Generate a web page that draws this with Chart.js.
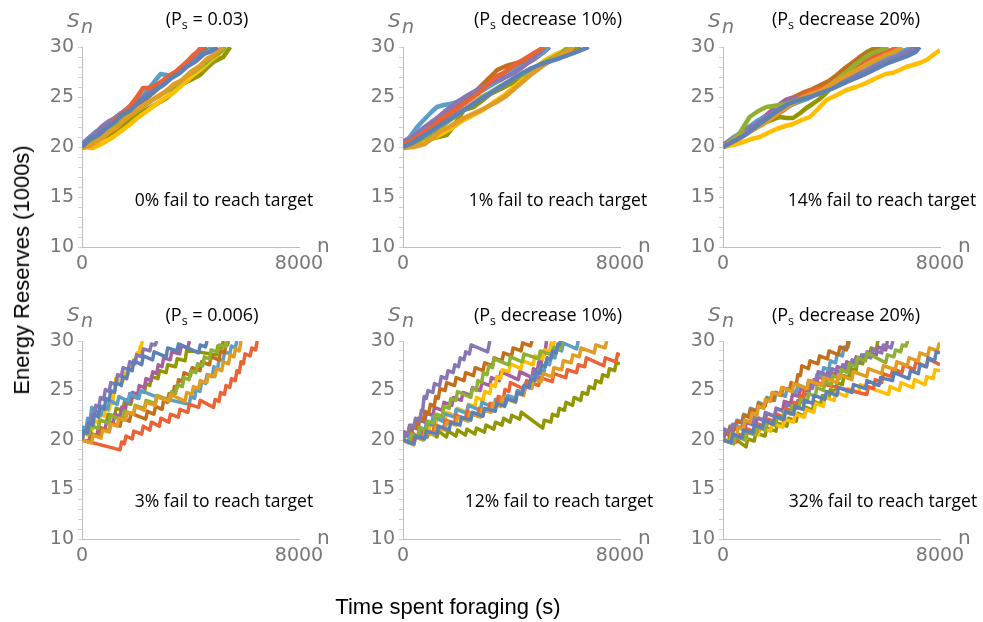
<!DOCTYPE html>
<html>
<head>
<meta charset="utf-8">
<script src="https://cdn.jsdelivr.net/npm/chart.js@4.4.0/dist/chart.umd.min.js"></script>
<style>
  body { margin: 0; background: #fff; width: 983px; height: 622px; position: relative; overflow: hidden; }
  .panel { position: absolute; }
  #ylab { position: absolute; left: 22px; top: 270px; transform: translate(-50%, -50%) rotate(-90deg);
          font: 22px "Liberation Sans", Arial, sans-serif; white-space: nowrap; color: #000; }
  #xlab { position: absolute; left: 448px; top: 607px; transform: translate(-50%, -50%);
          font: 22px "Liberation Sans", Arial, sans-serif; white-space: nowrap; color: #000; }
</style>
</head>
<body>
<div class="panel" style="left:0px;top:0px"><canvas id="c1" width="330" height="290"></canvas></div>
<div class="panel" style="left:321px;top:0px"><canvas id="c2" width="340" height="290"></canvas></div>
<div class="panel" style="left:641px;top:0px"><canvas id="c3" width="342" height="290"></canvas></div>
<div class="panel" style="left:0px;top:294px"><canvas id="c4" width="330" height="288"></canvas></div>
<div class="panel" style="left:321px;top:294px"><canvas id="c5" width="340" height="288"></canvas></div>
<div class="panel" style="left:641px;top:294px"><canvas id="c6" width="342" height="288"></canvas></div>
<div id="ylab">Energy Reserves (1000s)</div>
<div id="xlab">Time spent foraging (s)</div>
<script>
// Mathematica default palette, in plot order
var seriesColors = ['#5E81B5', '#E19C24', '#8FB032', '#EB6235', '#8778B3',
                    '#C56E1A', '#5D9EC7', '#FFBF00', '#A5609D', '#929600'];

var xTicks = [0, 8000];
var yTicks = [10, 15, 20, 25, 30];

var titleTails = [' = 0.03)', ' decrease 10%)', ' decrease 20%)',
                  ' = 0.006)', ' decrease 10%)', ' decrease 20%)'];
var failLabels = ['0% fail to reach target', '1% fail to reach target', '14% fail to reach target',
                  '3% fail to reach target', '12% fail to reach target', '32% fail to reach target'];

// each run: n, S, n, S, ...   (S in 1000s)
// Ps = 0.03
var runsA = [
  [0,20, 300,20.8, 600,21.2, 900,21.9, 1200,22.5, 1500,23.3, 1800,23.7, 2100,24.5, 2400,25.0, 2700,25.7, 3000,26.2, 3300,26.9, 3600,27.4, 3900,28.1, 4200,28.6, 4500,29.3, 4700,29.5, 5000,30],
  [0,19.9, 350,20.2, 700,20.8, 1000,21.5, 1300,22.0, 1600,22.8, 1900,23.4, 2200,24.0, 2500,24.6, 2800,25.0, 3100,25.6, 3400,26.3, 3700,26.7, 4000,27.5, 4300,28.0, 4600,28.8, 4800,29.1, 5200,30],
  [0,20, 300,20.5, 600,20.9, 900,21.6, 1200,22.0, 1500,22.7, 1800,23.2, 2100,23.7, 2400,24.3, 2700,24.9, 3000,25.4, 3300,25.9, 3600,26.5, 3900,27.2, 4200,27.7, 4500,28.3, 4800,29.0, 5100,29.5, 5300,30],
  [0,20, 300,20.7, 600,21.2, 900,21.9, 1200,22.7, 1500,23.4, 1800,24.2, 2000,24.9, 2250,25.9, 2500,25.9, 2800,26.3, 3100,26.9, 3400,27.4, 3700,28.1, 3900,28.6, 4100,29.2, 4300,29.6, 4400,30],
  [0,20.3, 250,20.9, 500,21.4, 750,22.1, 1000,22.6, 1250,22.9, 1500,23.4, 1800,24.0, 2100,24.6, 2400,25.3, 2700,25.8, 3000,26.5, 3300,27.0, 3600,27.6, 3900,28.3, 4100,28.9, 4300,29.5, 4500,30],
  [0,20, 350,20.6, 700,21.3, 1050,22.1, 1400,22.9, 1700,23.5, 2000,24.2, 2350,24.8, 2700,25.6, 3000,26.4, 3300,27.3, 3550,27.6, 3800,28.2, 4000,28.8, 4200,29.3, 4400,29.6, 4600,30],
  [0,20.2, 250,20.9, 500,21.5, 800,22.0, 1100,22.6, 1400,23.3, 1700,23.9, 2000,24.6, 2300,25.3, 2600,26.3, 2900,27.3, 3100,27.2, 3300,27.1, 3550,27.5, 3800,28.0, 4050,28.5, 4300,29.0, 4550,29.5, 4800,30],
  [0,20, 400,19.9, 650,20.2, 900,20.6, 1150,21.0, 1400,21.5, 1700,22.1, 2000,22.8, 2300,23.4, 2600,24.0, 2850,24.5, 3100,25.0, 3350,25.4, 3600,26.0, 3850,26.6, 4100,27.2, 4350,27.7, 4600,28.3, 4800,28.8, 5000,29.2, 5300,30],
  [0,20.1, 300,20.9, 600,21.6, 850,22.2, 1100,22.7, 1400,23.3, 1700,23.8, 2000,24.4, 2300,25.1, 2600,25.8, 2900,26.4, 3200,27.0, 3500,27.6, 3750,28.2, 4000,28.8, 4200,29.3, 4400,30],
  [0,20, 300,20.4, 600,20.8, 1030,21.2, 1300,21.8, 1650,22.4, 1900,22.9, 2140,23.4, 2500,23.9, 2800,24.4, 3120,24.9, 3400,25.6, 3610,26.2, 4000,26.7, 4350,27.2, 4600,27.9, 4840,28.5, 5210,29.0, 5460,30]
];

// Ps decrease 10% (top)
var runsB = [
  [0,20, 350,20.4, 700,21.0, 1100,21.7, 1500,22.4, 1900,23.1, 2300,23.8, 2650,24.4, 3000,25.0, 3350,25.6, 3700,26.2, 4050,26.8, 4400,27.4, 4750,27.9, 5100,28.3, 5450,28.6, 5800,28.9, 6100,29.2, 6400,29.5, 6850,30],
  [0,19.9, 400,20.0, 800,20.3, 1100,20.9, 1400,21.6, 1700,22.0, 2000,22.5, 2250,22.9, 2480,23.2, 2800,23.6, 3100,24.0, 3450,24.5, 3800,25.1, 4100,25.8, 4400,26.5, 4700,27.2, 5000,27.8, 5300,28.4, 5600,28.9, 5900,29.3, 6290,30],
  [0,20, 400,20.4, 800,20.9, 1150,21.5, 1500,22.2, 1850,22.9, 2200,23.6, 2550,24.3, 2900,25.0, 3250,25.5, 3600,26.1, 4000,26.7, 4400,27.2, 4750,27.8, 5100,28.3, 5450,28.8, 5800,29.3, 6100,30],
  [0,20.2, 350,20.7, 700,21.3, 1050,22.0, 1400,22.8, 1750,23.4, 2100,24.0, 2450,24.7, 2800,25.4, 3100,26.2, 3400,27.0, 3700,27.4, 4000,28.0, 4300,28.5, 4600,29.0, 4900,29.5, 5200,30],
  [0,20.4, 300,20.9, 600,21.5, 950,22.2, 1300,23.0, 1650,23.8, 2000,24.5, 2400,25.2, 2800,25.8, 3150,26.3, 3500,26.7, 3800,27.0, 4100,27.4, 4400,28.0, 4700,28.6, 4950,29.3, 5200,30],
  [0,20, 300,20.5, 600,21.0, 1000,21.7, 1350,22.5, 1700,23.3, 2000,23.8, 2240,24.4, 2500,25.1, 2800,25.9, 3100,26.7, 3300,27.2, 3470,27.7, 3800,28.1, 4200,28.4, 4450,28.6, 4700,28.9, 4950,29.4, 5200,30],
  [0,20, 250,21.0, 520,22.0, 800,22.8, 1050,23.5, 1250,24.0, 1500,24.2, 1750,24.3, 2000,24.5, 2300,24.9, 2600,25.2, 2900,25.6, 3200,26.1, 3500,26.6, 3800,27.2, 4100,27.8, 4400,28.2, 4700,28.7, 5050,29.3, 5400,30],
  [0,20, 450,20.2, 900,20.6, 1350,21.2, 1800,21.9, 2240,22.7, 2600,23.2, 2950,23.7, 3300,24.4, 3700,25.1, 4050,25.9, 4400,26.7, 4650,27.3, 4900,28.0, 5250,28.7, 5650,29.3, 5900,29.6, 6150,30],
  [0,20.5, 350,21.1, 700,21.8, 1050,22.5, 1400,23.1, 1700,23.7, 2000,24.3, 2400,25.0, 2800,25.7, 3200,26.2, 3600,26.7, 3950,27.3, 4300,27.8, 4600,28.4, 4900,28.9, 5150,29.4, 5400,30],
  [0,19.9, 500,20.3, 1000,20.8, 1300,21.0, 1620,21.2, 1900,22.2, 2240,23.7, 2610,24.0, 2900,24.6, 3220,25.3, 3600,25.8, 3960,26.3, 4250,26.7, 4580,27.0, 4820,27.5, 5060,28.0, 5350,28.5, 5650,29.0, 6000,29.4, 6390,29.8, 6550,30]
];

// Ps decrease 20% (top)
var runsC = [
  [0,20, 400,20.6, 800,21.2, 1200,22.0, 1600,22.8, 2000,23.6, 2400,24.3, 2800,24.7, 3200,25.0, 3600,25.4, 4000,25.8, 4400,26.3, 4800,26.8, 5200,27.3, 5600,27.8, 6000,28.3, 6400,28.7, 6800,29.1, 7100,29.5, 7250,30],
  [0,20, 400,20.7, 800,21.3, 1150,21.8, 1500,22.3, 1850,23.0, 2200,23.7, 2550,24.3, 2900,24.9, 3250,25.3, 3600,25.6, 3950,26.2, 4300,26.8, 4650,27.3, 5000,27.8, 5350,28.3, 5700,28.8, 6000,29.2, 6300,29.5, 6600,30],
  [0,20, 300,20.6, 600,21.3, 800,22.2, 980,23.0, 1300,23.6, 1600,24.0, 1850,24.1, 2090,24.2, 2350,24.3, 2580,24.5, 2850,24.7, 3100,25.0, 3400,25.3, 3700,25.7, 4000,26.3, 4300,27.0, 4600,27.6, 4900,28.3, 5200,28.9, 5500,29.4, 5800,29.7, 6100,30],
  [0,20.1, 400,20.6, 800,21.2, 1150,21.8, 1500,22.4, 1900,23.1, 2300,23.8, 2650,24.5, 3000,25.3, 3300,25.6, 3600,25.8, 3950,26.3, 4300,26.9, 4600,27.5, 4900,28.1, 5200,28.6, 5500,29.0, 5800,29.3, 6100,29.6, 6500,30],
  [0,20.2, 350,20.8, 700,21.4, 1050,22.0, 1400,22.6, 1750,23.3, 2090,24.0, 2400,24.5, 2700,24.9, 3100,25.2, 3500,25.5, 3900,25.9, 4300,26.3, 4650,26.8, 5000,27.3, 5350,27.7, 5700,28.2, 6050,28.6, 6400,29.0, 6700,29.4, 7000,29.8, 7190,30],
  [0,20, 350,20.5, 700,21.0, 1050,21.7, 1400,22.3, 1750,23.0, 2100,23.7, 2400,24.4, 2700,25.1, 3000,25.5, 3300,25.8, 3600,26.2, 3900,26.6, 4200,27.2, 4500,27.9, 4750,28.4, 5000,28.9, 5250,29.3, 5500,29.6, 5900,30],
  [0,20.2, 350,20.9, 700,21.5, 1000,22.1, 1300,22.7, 1650,23.1, 2000,23.5, 2350,24.0, 2700,24.4, 3100,24.8, 3500,25.3, 3900,25.9, 4300,26.5, 4700,27.0, 5100,27.6, 5450,28.2, 5800,28.7, 6150,29.1, 6500,29.5, 6850,29.8, 7200,30],
  [0,20, 370,20.2, 740,20.5, 1050,20.8, 1350,21.0, 1650,21.4, 1970,21.8, 2300,22.1, 2580,22.3, 2900,22.7, 3200,23.0, 3500,23.8, 3810,24.7, 4200,25.2, 4550,25.7, 4900,26.0, 5280,26.4, 5650,26.9, 6000,27.3, 6250,27.4, 6510,27.7, 6750,28.0, 7000,28.2, 7250,28.4, 7500,28.7, 7750,29.2, 8000,29.7],
  [0,20, 400,20.8, 800,21.5, 1200,22.4, 1600,23.2, 1950,24.0, 2300,24.7, 2650,25.0, 3000,25.2, 3400,25.5, 3800,25.9, 4200,26.2, 4600,26.6, 5000,27.0, 5400,27.5, 5750,28.0, 6100,28.5, 6450,28.9, 6800,29.3, 7000,29.6, 7200,30],
  [0,20, 350,20.8, 740,21.5, 1050,21.9, 1350,22.2, 1700,22.6, 2090,23.0, 2350,22.9, 2580,22.9, 2850,23.4, 3070,23.9, 3300,24.3, 3560,24.8, 3800,25.4, 4060,26.1, 4300,26.8, 4550,27.5, 4800,28.3, 5040,29.0, 5300,29.5, 5530,29.8, 5900,30]
];

// Ps = 0.006
var runsD = [
  [0,20, 50,20.9, 200,20.7, 260,21.7, 400,21.5, 460,22.6, 600,22.3, 660,23.4, 820,23.1, 880,24.2, 1000,24.0, 1060,25.0, 1200,24.8, 1260,25.8, 1450,25.5, 1510,26.4, 1650,26.2, 1710,27.2, 1850,27.0, 1910,28.0, 2200,27.6, 2260,28.5, 2600,28.1, 2660,28.9, 3100,28.4, 3160,29.3, 3500,29.0, 3560,29.7, 4300,28.8, 4360,29.6, 4550,29.4, 4610,30],
  [0,20, 350,19.7, 410,20.5, 700,20.2, 760,21.0, 1000,20.8, 1060,21.6, 1300,21.4, 1360,22.2, 1600,22.0, 1660,22.8, 1900,22.6, 1960,23.4, 2300,23.0, 2360,23.8, 2700,23.5, 2760,24.4, 3200,23.9, 3260,24.6, 3800,23.9, 3860,24.8, 4050,24.6, 4110,25.4, 4300,25.2, 4360,26.0, 4600,25.8, 4660,26.6, 4900,26.4, 4960,27.2, 5150,27.0, 5210,27.9, 5400,27.7, 5460,28.6, 5600,28.4, 5660,29.2, 5800,29.0, 5860,30],
  [0,20, 60,20.8, 250,20.6, 310,21.4, 600,21.2, 660,22.0, 1000,21.7, 1060,22.5, 1500,22.0, 1560,22.9, 1900,22.6, 1960,23.5, 2300,23.2, 2360,24.0, 2700,23.7, 2760,24.5, 3250,24.0, 3310,24.9, 3450,24.7, 3510,25.6, 3700,25.4, 3760,26.3, 3950,26.1, 4010,27.0, 4200,26.8, 4260,27.7, 4450,27.5, 4510,28.4, 4700,28.2, 4760,29.1, 5000,28.9, 5060,29.6, 5300,29.4, 5360,30],
  [0,20, 1400,19.0, 1460,19.8, 1560,19.6, 1620,20.4, 1850,20.1, 1910,20.9, 2200,20.6, 2260,21.4, 2500,21.0, 2560,21.8, 2850,21.4, 2910,22.2, 3200,21.8, 3260,22.6, 3550,22.3, 3610,23.1, 3900,22.8, 3960,23.6, 4300,23.3, 4360,24.0, 4850,23.3, 4910,24.1, 5050,23.9, 5110,24.8, 5250,24.6, 5310,25.5, 5450,25.3, 5510,26.2, 5650,26.0, 5710,27.0, 5800,26.8, 5860,27.9, 5950,27.7, 6010,28.7, 6200,28.5, 6260,29.3, 6400,29.1, 6460,30],
  [0,20, 60,20.9, 150,20.7, 210,21.7, 300,21.5, 360,22.6, 450,22.4, 510,23.5, 620,23.3, 680,24.3, 800,24.1, 860,25.1, 1000,24.9, 1060,25.8, 1250,25.6, 1310,26.6, 1450,26.4, 1510,27.3, 1700,27.1, 1760,27.9, 1950,27.7, 2010,28.6, 2200,28.4, 2260,29.2, 2500,29.0, 2560,29.7, 2700,29.6, 2760,30],
  [0,20, 300,19.8, 360,20.6, 650,20.4, 710,21.2, 1000,20.9, 1060,21.7, 1400,21.4, 1460,22.2, 1750,21.9, 1810,22.7, 2350,22.1, 2410,22.9, 2650,22.6, 2710,23.4, 2950,23.1, 3010,24.0, 3150,23.8, 3210,24.7, 3350,24.5, 3410,25.4, 3500,25.2, 3560,26.1, 3700,25.9, 3760,26.8, 4000,26.5, 4060,27.3, 4350,27.0, 4410,27.9, 4700,27.6, 4760,28.4, 5050,28.1, 5110,29.0, 5250,28.8, 5310,29.7, 5360,29.6, 5400,30],
  [0,20, 50,21.3, 150,21.1, 210,22.2, 300,22.0, 360,23.3, 700,22.5, 760,23.4, 950,23.1, 1010,24.0, 1300,23.6, 1360,24.4, 1700,23.9, 1760,24.7, 2100,24.2, 2160,25.0, 2700,24.4, 3950,23.6, 4010,24.4, 4150,24.2, 4210,25.1, 4350,24.9, 4410,25.9, 4550,25.7, 4610,26.6, 4800,26.4, 4860,27.4, 5000,27.2, 5060,28.2, 5200,28.0, 5260,28.9, 5450,28.7, 5510,29.5, 5650,29.3, 5710,30],
  [0,20, 60,20.8, 200,20.5, 260,21.4, 400,21.1, 460,22.0, 620,21.7, 680,22.6, 820,22.4, 880,23.3, 1000,23.0, 1060,23.9, 1130,23.7, 1170,24.9, 1200,24.8, 1240,26.2, 1500,25.9, 1560,26.8, 1700,26.6, 1760,27.4, 1850,27.2, 1900,28.1, 1980,27.9, 2030,28.8, 2100,28.6, 2150,29.5, 2180,29.4, 2220,30],
  [0,20, 250,19.8, 310,20.6, 550,20.4, 610,21.3, 850,21.1, 910,21.9, 1150,21.7, 1210,22.6, 1400,22.4, 1460,23.3, 1600,23.1, 1660,24.1, 1800,23.9, 1860,24.8, 2050,24.6, 2110,25.5, 2300,25.3, 2360,26.2, 2550,26.0, 2610,26.9, 2750,26.7, 2810,27.6, 2950,27.4, 3010,28.3, 3250,28.1, 3310,28.9, 3600,28.7, 3660,29.5, 3900,29.3, 3960,30],
  [0,20, 60,20.8, 300,20.6, 360,21.4, 600,21.2, 660,22.0, 900,21.8, 960,22.6, 1200,22.4, 1260,23.2, 1500,23.0, 1560,23.8, 1800,23.6, 1860,24.4, 2050,24.2, 2110,25.0, 2300,24.8, 2360,25.7, 2500,25.5, 2560,26.4, 2800,26.2, 2860,27.0, 3100,26.8, 3160,27.6, 3450,27.4, 3510,28.2, 3800,28.0, 3860,29.1, 4950,28.6, 5010,29.5, 5150,29.3, 5210,30]
];

// Ps decrease 10% (bottom)
var runsE = [
  [0,20, 400,19.6, 460,20.4, 800,20.1, 860,20.9, 1250,20.6, 1310,21.4, 1700,21.0, 1760,21.8, 2100,21.5, 2160,22.3, 2500,22.0, 2560,22.8, 2950,22.4, 3010,23.2, 3400,22.9, 3460,23.7, 3750,23.4, 3810,24.2, 4150,23.9, 4210,24.8, 4400,24.6, 4460,25.5, 4650,25.3, 4710,26.2, 4850,26.0, 4910,26.9, 5050,26.7, 5110,27.6, 5250,27.4, 5310,28.3, 5450,28.1, 5510,29.0, 5650,28.8, 5710,29.7, 5760,29.6, 5800,30],
  [0,20, 400,19.5, 460,20.3, 750,20.0, 810,20.8, 1150,20.5, 1210,21.3, 1550,21.0, 1610,21.8, 1950,21.5, 2010,22.3, 2400,21.9, 2460,22.7, 2850,22.3, 2910,23.1, 3250,22.8, 3310,23.7, 3600,23.4, 3660,24.3, 4150,23.8, 4210,24.7, 4450,24.5, 4510,25.4, 4750,25.2, 4810,26.1, 5100,25.9, 5160,26.7, 5500,26.4, 5560,27.3, 5850,27.1, 5910,28.0, 6200,27.8, 6260,28.6, 6500,28.4, 6560,29.3, 7050,28.8, 7110,29.6, 7450,29.3, 7510,30],
  [0,20, 250,19.8, 310,20.6, 550,20.4, 610,21.3, 850,21.0, 910,21.9, 1150,21.7, 1210,22.6, 1450,22.4, 1510,23.4, 1700,23.2, 1760,24.2, 1950,24.0, 2010,24.9, 2500,24.3, 2560,25.2, 2700,25.0, 2760,26.0, 2900,25.8, 2960,26.8, 3100,26.6, 3160,27.5, 3300,27.3, 3360,28.2, 3900,27.6, 3960,28.4, 4400,27.9, 4460,28.7, 5000,28.2, 5060,29.0, 5500,28.6, 5560,29.4, 5800,29.2, 5860,30],
  [0,20, 300,19.8, 360,20.6, 700,20.2, 760,21.0, 1100,20.7, 1160,21.5, 1500,21.2, 1560,22.0, 1900,21.7, 1960,22.5, 2300,22.1, 2360,22.9, 2750,22.4, 2810,23.2, 3150,22.9, 3210,23.7, 3450,23.5, 3510,24.4, 3700,24.2, 3760,25.1, 3900,24.9, 3960,25.8, 4500,25.1, 4560,26.0, 5000,25.5, 5060,26.3, 5500,25.9, 5560,26.7, 6000,26.3, 6060,27.1, 6400,26.8, 6460,27.6, 6700,27.4, 6760,28.3, 7400,27.5, 7460,28.3, 7850,27.9, 7910,28.7, 8000,28.6],
  [0,20, 60,20.8, 180,20.6, 240,21.5, 400,21.3, 460,22.2, 620,22.0, 680,23.0, 720,22.9, 780,24.4, 860,24.2, 920,25.0, 1100,24.8, 1160,25.7, 1350,25.5, 1410,26.4, 1600,26.2, 1660,27.0, 1850,26.8, 1910,27.6, 2050,27.4, 2110,28.3, 2250,28.1, 2310,28.9, 2450,28.7, 2510,29.6, 3120,28.9, 3200,30],
  [0,20, 60,20.8, 250,20.6, 310,21.5, 500,21.3, 560,22.2, 750,22.0, 810,22.9, 950,22.7, 1010,23.6, 1150,23.4, 1210,24.4, 1300,24.2, 1360,25.2, 1550,25.0, 1610,25.8, 1900,25.5, 1960,26.3, 2250,26.0, 2310,26.8, 2600,26.5, 2660,27.3, 2950,27.0, 3010,27.8, 3300,27.5, 3360,28.3, 3650,28.0, 3710,28.8, 4000,28.5, 4060,29.3, 4350,29.0, 4410,29.8, 4700,29.5, 4760,30],
  [0,20, 200,19.7, 260,20.5, 550,20.2, 610,21.0, 800,20.8, 860,21.7, 1050,21.5, 1110,22.4, 1450,21.9, 1510,22.7, 1900,22.3, 1960,23.1, 2350,22.7, 2410,23.5, 2850,23.0, 2910,23.8, 3350,23.3, 3410,24.1, 3800,23.7, 3860,24.5, 4150,24.2, 4210,25.0, 4450,24.8, 4510,25.7, 4700,25.5, 4760,26.4, 4950,26.2, 5010,27.1, 5200,26.9, 5260,27.8, 5400,27.6, 5460,28.5, 5600,28.3, 5660,29.2, 5850,29.0, 5910,29.8, 6400,29.2, 6460,30],
  [0,20, 400,19.6, 460,20.4, 700,20.2, 760,21.0, 950,20.8, 1010,21.7, 1200,21.5, 1260,22.4, 1550,22.0, 1610,22.8, 1950,22.4, 2010,23.2, 2350,22.8, 2410,23.6, 2650,23.4, 2710,24.3, 2950,24.0, 3010,24.9, 3200,24.7, 3260,25.6, 3400,25.4, 3460,26.4, 3600,26.2, 3660,27.1, 3900,26.9, 3960,27.7, 4350,27.2, 4410,28.0, 4800,27.6, 4860,28.5, 5150,28.2, 5210,29.1, 5400,28.9, 5460,29.8, 5550,29.7, 5600,30],
  [0,20, 100,20.6, 300,20.4, 360,21.3, 550,21.1, 610,22.0, 800,21.8, 860,22.7, 1100,22.5, 1160,23.3, 1450,23.0, 1510,23.8, 1800,23.5, 1860,24.3, 2150,24.0, 2210,24.8, 2500,24.5, 2560,25.3, 2850,25.0, 2910,25.8, 3200,25.5, 3260,26.3, 3550,26.0, 3610,26.9, 4250,26.1, 4310,26.9, 4750,26.3, 4810,27.2, 4950,27.0, 5010,27.9, 5100,27.8, 5160,28.8, 5230,28.7, 5290,30],
  [0,20, 60,20.6, 300,20.1, 360,20.7, 600,20.2, 660,20.8, 900,20.3, 960,20.9, 1250,20.3, 1310,20.9, 1600,20.3, 1660,20.9, 1950,20.4, 2010,21.0, 2300,20.5, 2360,21.1, 2650,20.6, 2710,21.2, 3000,20.8, 3060,21.5, 3350,21.1, 3410,21.8, 3650,21.5, 3710,22.2, 3950,21.8, 4010,22.5, 4300,22.1, 4360,22.8, 5150,21.2, 5210,22.0, 5450,21.8, 5510,22.6, 5700,22.4, 5760,23.2, 5950,23.0, 6010,23.8, 6250,23.5, 6310,24.3, 6550,24.0, 6610,24.8, 6800,24.6, 6860,25.4, 7050,25.2, 7110,26.0, 7300,25.8, 7360,26.6, 7550,26.4, 7610,27.2, 7800,27.0, 7860,27.8, 8000,27.7]
];

// Ps decrease 20% (bottom)
var runsF = [
  [0,20, 300,19.7, 360,20.6, 700,20.2, 760,21.0, 1100,20.7, 1160,21.5, 1450,21.2, 1510,22.0, 1850,21.6, 1910,22.4, 2250,22.1, 2310,22.9, 2600,22.6, 2660,23.4, 2950,23.1, 3010,24.0, 3300,23.7, 3360,24.5, 3750,24.1, 3810,24.9, 4200,24.5, 4260,25.3, 4750,24.8, 4810,25.6, 5250,25.2, 5310,26.0, 5750,25.5, 5810,26.3, 6250,26.0, 6310,26.8, 6850,26.2, 6910,27.0, 7200,26.7, 7260,27.6, 7500,27.4, 7560,28.3, 7800,28.0, 7860,28.9, 8000,28.8],
  [0,20, 250,19.8, 310,20.6, 500,20.4, 560,21.3, 750,21.1, 810,22.0, 1000,21.8, 1060,22.7, 1250,22.5, 1310,23.4, 1500,23.2, 1560,24.1, 1750,23.9, 1810,24.8, 2100,24.5, 2160,25.3, 2550,24.9, 2610,25.7, 3100,25.2, 3160,26.0, 3650,25.5, 3710,26.3, 4200,25.8, 4260,26.6, 4750,26.1, 4810,26.9, 5300,26.4, 5360,27.2, 5850,26.7, 5910,27.5, 6350,27.1, 6410,27.9, 6800,27.5, 6860,28.3, 7200,28.0, 7260,28.8, 7550,28.5, 7610,29.3, 7900,29.0, 7960,29.7, 8000,29.6],
  [0,20, 400,19.6, 460,20.4, 800,20.0, 860,20.8, 1200,20.5, 1260,21.3, 1550,21.0, 1610,21.8, 1900,21.5, 1960,22.3, 2200,22.0, 2260,22.9, 2500,22.6, 2560,23.5, 2800,23.2, 2860,24.1, 3100,23.8, 3160,24.7, 3400,24.4, 3460,25.3, 3700,25.0, 3760,25.9, 4000,25.6, 4060,26.5, 4300,26.2, 4360,27.1, 4600,26.8, 4660,27.7, 4900,27.4, 4960,28.3, 5250,28.0, 5310,28.8, 6000,27.8, 6060,28.6, 6300,28.4, 6360,29.1, 6550,28.9, 6610,29.6, 6750,29.5, 6810,30],
  [0,20, 500,19.8, 560,20.6, 850,20.3, 910,21.1, 1250,20.8, 1310,21.6, 1600,21.3, 1660,22.1, 1950,21.8, 2010,22.6, 2250,22.3, 2310,23.2, 2550,22.9, 2610,23.8, 2800,23.6, 2860,24.5, 2950,24.3, 3010,25.3, 3100,25.1, 3160,26.0, 5300,24.6, 5360,25.4, 5550,25.2, 5610,26.1, 5850,25.8, 5910,26.7, 6200,26.4, 6260,27.2, 6600,26.8, 6660,27.6, 7050,27.1, 7110,27.9, 7500,27.4, 7560,28.2, 8000,27.6],
  [0,20, 50,21.1, 300,20.8, 360,21.6, 700,21.2, 760,22.0, 1100,21.6, 1160,22.4, 1500,22.0, 1560,22.8, 1900,22.4, 1960,23.2, 2300,22.8, 2360,23.6, 2700,23.2, 2760,24.0, 2950,23.8, 3010,24.7, 3150,24.5, 3210,25.4, 3300,25.2, 3360,26.1, 3450,26.0, 3510,26.9, 3950,26.4, 4010,27.2, 4350,26.8, 4410,27.6, 4700,27.3, 4760,28.1, 5050,27.8, 5110,28.6, 5450,28.3, 5510,29.1, 5850,28.8, 5910,29.6, 6200,29.3, 6260,30],
  [0,20, 60,20.7, 200,20.5, 260,21.3, 450,21.1, 510,21.9, 700,21.7, 760,22.5, 950,22.3, 1010,23.1, 1250,22.9, 1310,23.7, 1550,23.4, 1610,24.2, 1850,24.0, 1910,24.8, 2150,24.5, 2210,25.3, 2450,25.0, 2510,25.8, 2700,25.6, 2760,26.6, 2850,26.5, 2910,27.5, 3150,27.2, 3210,28.0, 3500,27.7, 3560,28.5, 3850,28.2, 3910,29.0, 4250,28.6, 4310,29.4, 4550,29.1, 4610,30],
  [0,20, 50,20.8, 200,20.6, 260,21.4, 450,21.2, 510,22.0, 700,21.8, 760,22.6, 950,22.4, 1010,23.2, 1250,23.0, 1310,23.8, 1550,23.5, 1610,24.3, 1900,24.0, 1960,24.8, 2300,24.4, 2360,25.2, 2700,24.8, 2760,25.6, 3100,25.2, 3160,26.0, 3400,25.7, 3460,26.6, 3650,26.4, 3710,27.3, 3900,27.1, 3960,28.0, 4150,27.8, 4210,28.7, 4400,28.5, 4460,29.4, 4600,29.3, 4660,30],
  [0,20, 400,19.7, 460,20.5, 850,20.1, 910,20.9, 1300,20.5, 1360,21.3, 1750,20.9, 1810,21.7, 2200,21.3, 2260,22.1, 2600,21.8, 2660,22.6, 3000,22.3, 3060,23.1, 3350,22.8, 3410,23.7, 3700,23.4, 3760,24.3, 4100,24.0, 4160,24.8, 4550,24.4, 4610,25.2, 5000,24.8, 5060,25.6, 6100,24.6, 6160,25.4, 6500,25.0, 6560,25.8, 7000,25.3, 7060,26.1, 7450,25.6, 7510,26.4, 7750,26.2, 7810,27.1, 8000,27.0],
  [0,20, 80,20.9, 350,20.6, 410,21.4, 800,21.0, 860,21.8, 1200,21.4, 1260,22.2, 1550,21.9, 1610,22.7, 1900,22.4, 1960,23.2, 2200,23.0, 2260,23.9, 2500,23.7, 2560,24.6, 2800,24.4, 2860,25.2, 3100,25.0, 3160,25.8, 3450,25.6, 3510,26.4, 3800,26.1, 3860,26.9, 4150,26.6, 4210,27.4, 4500,27.1, 4560,27.9, 4850,27.6, 4910,28.4, 5250,28.1, 5310,28.9, 5650,28.6, 5710,29.4, 6000,29.1, 6060,30],
  [0,20, 200,19.8, 260,20.5, 850,19.3, 910,20.1, 1150,19.9, 1210,20.7, 1550,20.4, 1610,21.2, 1950,20.9, 2010,21.7, 2350,21.4, 2410,22.2, 2700,21.9, 2760,22.7, 3000,22.4, 3060,23.3, 3300,23.0, 3360,23.9, 3600,23.6, 3660,24.5, 3900,24.2, 3960,25.1, 4150,24.9, 4210,25.8, 4400,25.6, 4460,26.5, 4650,26.3, 4710,27.2, 4900,27.0, 4960,27.9, 5150,27.7, 5210,28.6, 5400,28.4, 5460,29.3, 5650,29.1, 5710,30]
];

var panelRuns = [runsA, runsB, runsC, runsD, runsE, runsF];

// per-panel text placement, relative to the plot area (left / top)
var titleX = [125, 145, 123, 130, 145, 123];
var failX = [142, 155, 159, 142, 156, 160];

function toPoints(flat) {
    var pts = [];
    for (var i = 0; i < flat.length; i += 2) {
        pts.push({ x: flat[i], y: flat[i + 1] });
    }
    return pts;
}

var tickFont = { family: '"DejaVu Sans", sans-serif', size: 19 };
var textFont = '"Open Sans", "Noto Sans", sans-serif';

var panelText = {
    id: 'panelText',
    afterDraw: function (chart, args, o) {
        var ctx = chart.ctx, a = chart.chartArea;
        ctx.save();
        // title with subscript s
        ctx.fillStyle = '#000';
        ctx.textBaseline = 'alphabetic';
        ctx.textAlign = 'left';
        var big = '18px ' + textFont, small = '12.5px ' + textFont;
        ctx.font = big;
        var w1 = ctx.measureText('(P').width, w3 = ctx.measureText(o.tail).width;
        ctx.font = small;
        var w2 = ctx.measureText('s').width;
        var x0 = a.left + o.tx - (w1 + w2 + w3) / 2, yb = a.top + o.ty;
        ctx.font = big;
        ctx.fillText('(P', x0, yb);
        ctx.font = small;
        ctx.fillText('s', x0 + w1, yb + 4);
        ctx.font = big;
        ctx.fillText(o.tail, x0 + w1 + w2, yb);
        // fail label
        ctx.font = '17.5px ' + textFont;
        ctx.textAlign = 'center';
        ctx.textBaseline = 'middle';
        ctx.fillText(o.fail, a.left + o.fx, a.top + o.fy);
        // S_n and n axis names
        ctx.fillStyle = '#777';
        ctx.textAlign = 'left';
        ctx.textBaseline = 'alphabetic';
        ctx.font = 'italic 20px "DejaVu Sans", sans-serif';
        ctx.fillText('S', a.left - 15, a.top - 20);
        ctx.font = 'italic 19px "DejaVu Sans", sans-serif';
        ctx.fillText('n', a.left - 1, a.top - 14);
        ctx.font = '20px "DejaVu Sans", sans-serif';
        ctx.fillText('n', a.right + 18, a.bottom + 5);
        ctx.restore();
    }
};

function makePanel(idx) {
    var canvas = document.getElementById('c' + (idx + 1));
    var topRow = idx < 3;
    var datasets = panelRuns[idx].map(function (run, i) {
        return {
            data: toPoints(run),
            borderColor: seriesColors[i],
            borderWidth: topRow ? 4.5 : 3.5,
            borderJoinStyle: 'round',
            pointRadius: 0,
            fill: false,
            tension: 0
        };
    });
    new Chart(canvas, {
        type: 'line',
        data: { datasets: datasets },
        plugins: [panelText],
        options: {
            responsive: false,
            animation: false,
            events: [],
            layout: { padding: { left: 42, top: 47, right: canvas.width - 299, bottom: 13 } },
            plugins: {
                legend: { display: false },
                tooltip: { enabled: false },
                panelText: {
                    tail: titleTails[idx],
                    fail: failLabels[idx],
                    tx: titleX[idx],
                    ty: topRow ? -22 : -20,
                    fx: failX[idx],
                    fy: topRow ? 154 : 161
                }
            },
            scales: {
                x: {
                    type: 'linear',
                    min: xTicks[0],
                    max: xTicks[xTicks.length - 1],
                    afterBuildTicks: function (s) { s.ticks = xTicks.map(function (v) { return { value: v }; }); },
                    afterFit: function (s) { s.height = 30; },
                    grid: { display: true, drawOnChartArea: false, drawTicks: false },
                    border: { color: '#bdbdbd', width: 1 },
                    ticks: {
                        color: '#777', font: tickFont, maxRotation: 0, padding: 6, autoSkip: false,
                        callback: function (v) { return String(v); }
                    }
                },
                y: {
                    min: yTicks[0],
                    max: yTicks[yTicks.length - 1],
                    afterFit: function (s) { s.width = 40; },
                    grid: { display: true, drawOnChartArea: false, tickLength: 4, color: '#d0d0d0' },
                    border: { color: '#bdbdbd', width: 1 },
                    ticks: {
                        stepSize: 1,
                        autoSkip: false,
                        color: '#777',
                        font: tickFont,
                        padding: 4,
                        callback: function (v) { return yTicks.indexOf(v) >= 0 ? String(v) : ''; }
                    }
                }
            }
        }
    });
}

for (var k = 0; k < 6; k++) makePanel(k);
</script>
</body>
</html>
